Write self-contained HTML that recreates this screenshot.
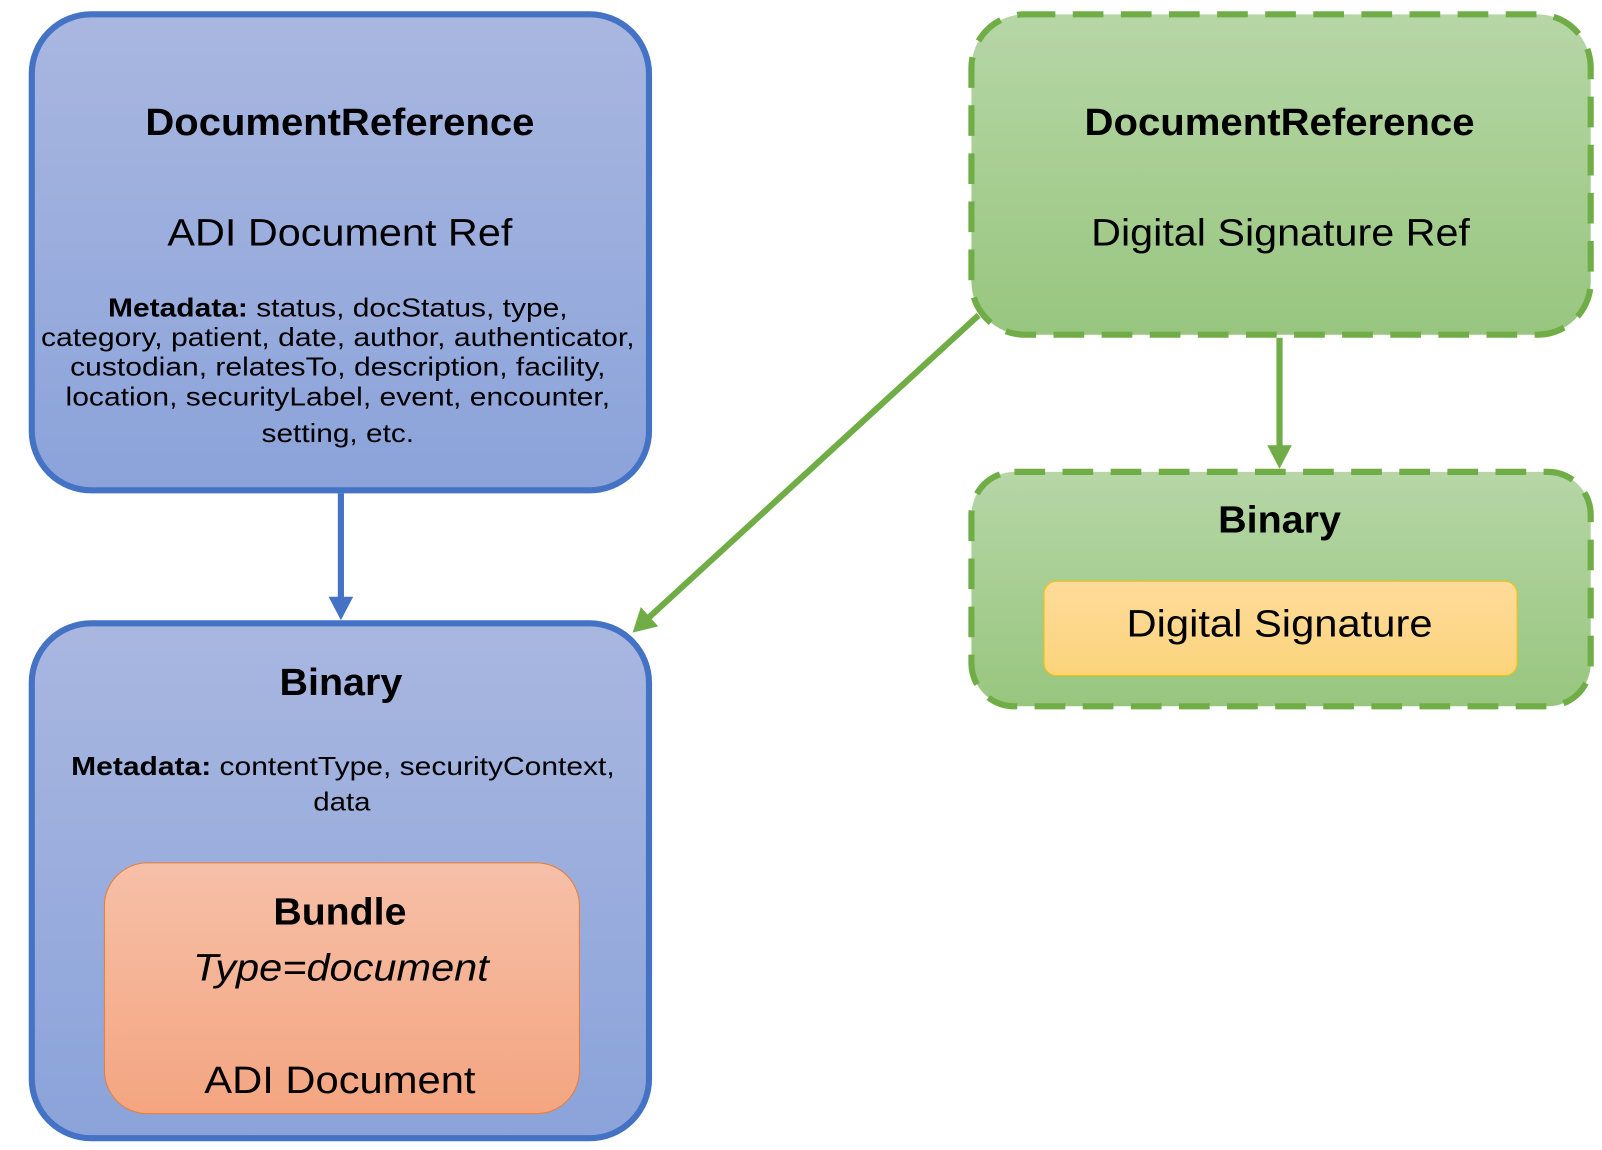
<!DOCTYPE html>
<html><head><meta charset="utf-8"><style>
html,body{margin:0;padding:0;background:#fff;width:1602px;height:1150px;overflow:hidden}
svg{display:block}
text{font-family:"Liberation Sans",sans-serif;fill:#000}
</style></head><body>
<svg width="1602" height="1150" viewBox="0 0 1565 1123.5" xmlns="http://www.w3.org/2000/svg">
<defs>
<linearGradient id="bl" x1="0" y1="0" x2="0" y2="1"><stop offset="0" stop-color="#A9B7E0"/><stop offset="1" stop-color="#8BA3DA"/></linearGradient>
<linearGradient id="gr" x1="0" y1="0" x2="0" y2="1"><stop offset="0" stop-color="#B6D6A6"/><stop offset="1" stop-color="#98C67F"/></linearGradient>
<linearGradient id="or" x1="0" y1="0" x2="0" y2="1"><stop offset="0" stop-color="#F6C0A8"/><stop offset="1" stop-color="#F4A580"/></linearGradient>
<linearGradient id="ye" x1="0" y1="0" x2="0" y2="1"><stop offset="0" stop-color="#FEDB9A"/><stop offset="1" stop-color="#FCD47C"/></linearGradient>
</defs>

<rect x="31" y="14" width="603" height="465" rx="58" fill="url(#bl)" stroke="#4472C4" stroke-width="6"/>
<rect x="31" y="609" width="603" height="503" rx="58" fill="url(#bl)" stroke="#4472C4" stroke-width="6"/>
<rect x="102" y="843" width="464" height="245" rx="42" fill="url(#or)" stroke="#ED7D31" stroke-width="1"/>

<rect x="949" y="14" width="605" height="313" rx="52" fill="url(#gr)" stroke="#70AD47" stroke-width="6" stroke-dasharray="30 17"/>
<rect x="949" y="461" width="605" height="229" rx="42" fill="url(#gr)" stroke="#70AD47" stroke-width="6" stroke-dasharray="30 17"/>
<rect x="1020" y="568" width="462" height="92" rx="12" fill="url(#ye)" stroke="#FFC000" stroke-width="1"/>

<line x1="333" y1="482" x2="333" y2="588" stroke="#4472C4" stroke-width="6"/>
<polygon points="321,583 345,583 333,606" fill="#4472C4"/>
<line x1="1250" y1="330" x2="1250" y2="440" stroke="#70AD47" stroke-width="6"/>
<polygon points="1238,435 1262,435 1250,458" fill="#70AD47"/>
<line x1="956" y1="308" x2="632" y2="605" stroke="#70AD47" stroke-width="6"/>
<polygon points="618,618 626,593 643,612" fill="#70AD47"/>

<text x="332" y="132" text-anchor="middle" font-weight="bold" font-size="37" textLength="380" lengthAdjust="spacingAndGlyphs">DocumentReference</text>
<text x="332" y="240" text-anchor="middle" font-size="37" textLength="337" lengthAdjust="spacingAndGlyphs">ADI Document Ref</text>
<g font-size="25" text-anchor="middle">
<text x="330" y="309" textLength="449" lengthAdjust="spacingAndGlyphs"><tspan font-weight="bold">Metadata:</tspan> status, docStatus, type,</text>
<text x="330" y="338" textLength="580" lengthAdjust="spacingAndGlyphs">category, patient, date, author, authenticator,</text>
<text x="330" y="367" textLength="523" lengthAdjust="spacingAndGlyphs">custodian, relatesTo, description, facility,</text>
<text x="330" y="396" textLength="532" lengthAdjust="spacingAndGlyphs">location, securityLabel, event, encounter,</text>
<text x="330" y="432" textLength="149" lengthAdjust="spacingAndGlyphs">setting, etc.</text>
</g>

<text x="333" y="679" text-anchor="middle" font-weight="bold" font-size="37" textLength="120" lengthAdjust="spacingAndGlyphs">Binary</text>
<g font-size="25" text-anchor="middle">
<text x="335" y="757" textLength="531" lengthAdjust="spacingAndGlyphs"><tspan font-weight="bold">Metadata:</tspan> contentType, securityContext,</text>
<text x="334" y="792" textLength="56" lengthAdjust="spacingAndGlyphs">data</text>
</g>
<text x="332" y="903" text-anchor="middle" font-weight="bold" font-size="37" textLength="130" lengthAdjust="spacingAndGlyphs">Bundle</text>
<text x="333" y="958" text-anchor="middle" font-style="italic" font-size="37" textLength="289" lengthAdjust="spacingAndGlyphs">Type=document</text>
<text x="332" y="1068" text-anchor="middle" font-size="37" textLength="265" lengthAdjust="spacingAndGlyphs">ADI Document</text>

<text x="1250" y="132" text-anchor="middle" font-weight="bold" font-size="37" textLength="381" lengthAdjust="spacingAndGlyphs">DocumentReference</text>
<text x="1251" y="240" text-anchor="middle" font-size="37" textLength="370" lengthAdjust="spacingAndGlyphs">Digital Signature Ref</text>
<text x="1250" y="520" text-anchor="middle" font-weight="bold" font-size="37" textLength="120" lengthAdjust="spacingAndGlyphs">Binary</text>
<text x="1250" y="622" text-anchor="middle" font-size="37" textLength="299" lengthAdjust="spacingAndGlyphs">Digital Signature</text>
</svg>
</body></html>
